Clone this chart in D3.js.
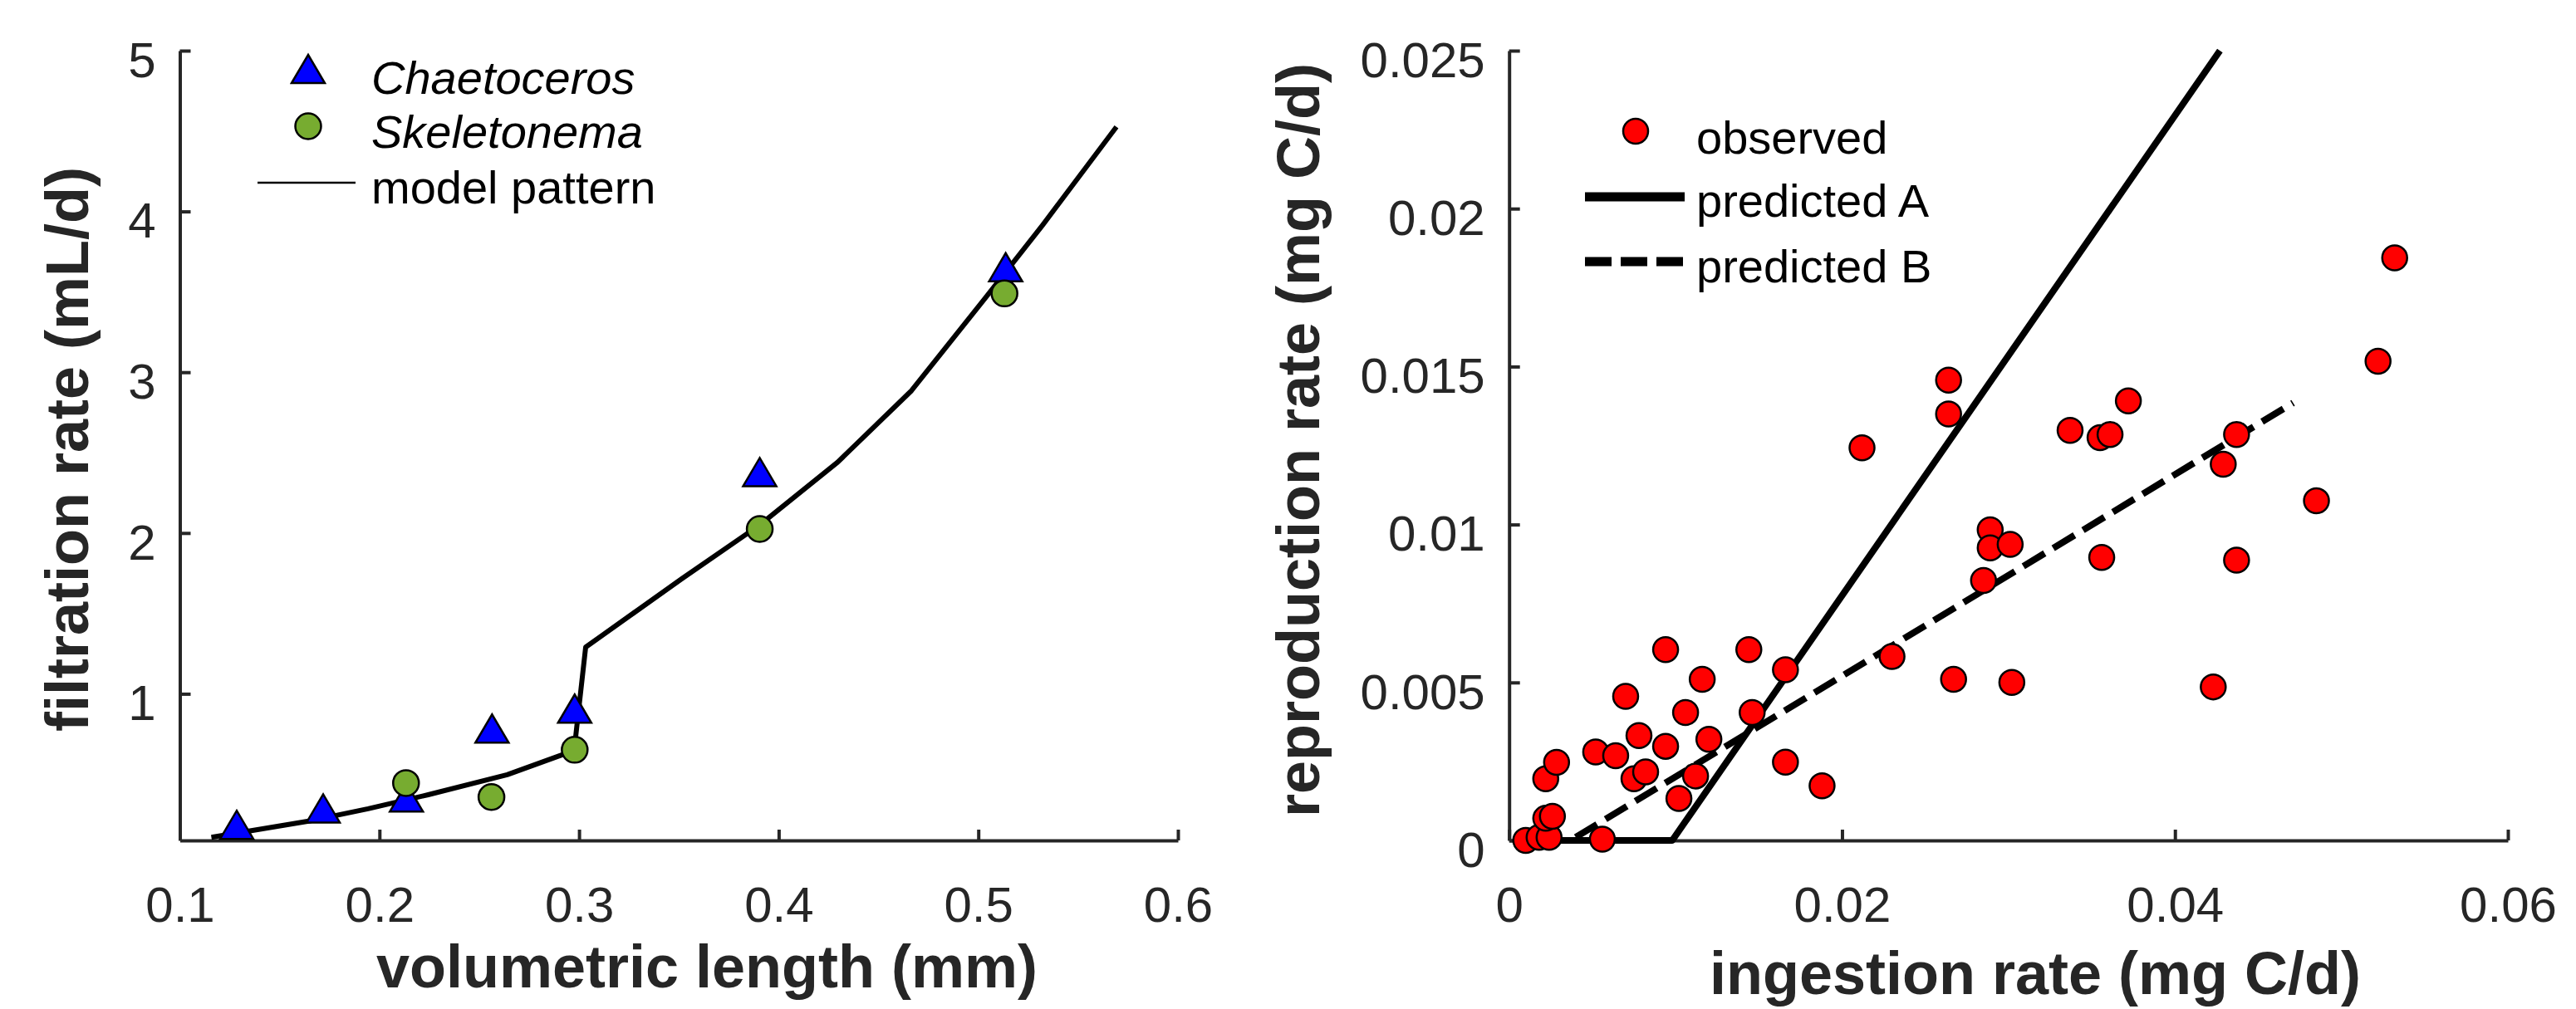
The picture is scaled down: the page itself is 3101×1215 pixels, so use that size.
<!DOCTYPE html>
<html>
<head>
<meta charset="utf-8">
<script src="https://cdn.jsdelivr.net/npm/d3@7"></script>
<style>
  html, body { margin: 0; padding: 0; background: #fff; }
  svg { display: block; }
  text { font-family: "Liberation Sans", Arial, sans-serif; }
</style>
</head>
<body>
<svg id="chart" width="3101" height="1215"></svg>
<script>
// left panel: filtration rate vs volumetric length
const chaetoLength = [0.1285, 0.1718, 0.2135, 0.2564, 0.2978, 0.3905, 0.5137]
const chaetoFiltration = [0.185, 0.287, 0.355, 0.784, 0.908, 2.379, 3.653]
const skeletoLength = [0.2133, 0.2561, 0.2978, 0.3905, 0.5131]
const skeletoFiltration = [0.445, 0.358, 0.652, 2.025, 3.49]
const modelLength = [0.1158, 0.1658, 0.1943, 0.2244, 0.2640, 0.2910, 0.2975, 0.3033, 0.3514, 0.3905, 0.4295, 0.4665, 0.5034, 0.5322, 0.5692]
const modelFiltration = [0.107, 0.211, 0.285, 0.372, 0.497, 0.618, 0.645, 1.29, 1.715, 2.05, 2.44, 2.885, 3.46, 3.915, 4.526]
const leftXTicks = [0.1, 0.2, 0.3, 0.4, 0.5, 0.6]
const leftXLabels = ["0.1", "0.2", "0.3", "0.4", "0.5", "0.6"]
const leftYTicks = [1, 2, 3, 4, 5]
const leftYLabels = ["1", "2", "3", "4", "5"]

// right panel: reproduction rate vs ingestion rate
const obsIngestion = [0.0010, 0.0018, 0.0024, 0.0022, 0.0026, 0.0022, 0.00285, 0.0056, 0.0052, 0.0064,
  0.0070, 0.0078, 0.0075, 0.0082, 0.0094, 0.0094, 0.0106, 0.0116, 0.0102, 0.0112,
  0.0120, 0.0144, 0.0146, 0.0166, 0.0166, 0.0188, 0.0212, 0.0230, 0.0264, 0.0264,
  0.0267, 0.0289, 0.0289, 0.0301, 0.0285, 0.0302, 0.0337, 0.0355, 0.0361, 0.0372,
  0.0356, 0.0437, 0.0429, 0.0437, 0.0423, 0.0485, 0.0522, 0.0532]
const obsReproduction = [0, 0.0001, 0.0001, 0.0007, 0.00076, 0.00195, 0.00247, 0.00004, 0.0028, 0.00268,
  0.00456, 0.00332, 0.00195, 0.00217, 0.00604, 0.00298, 0.00405, 0.0051, 0.00133, 0.00204,
  0.0032, 0.00604, 0.00405, 0.0054, 0.00248, 0.00173, 0.01243, 0.00582, 0.01457, 0.0135,
  0.0051, 0.00983, 0.00926, 0.00937, 0.00823, 0.005, 0.01298, 0.01275, 0.01285, 0.01391,
  0.00896, 0.01285, 0.01191, 0.00887, 0.00486, 0.01075, 0.01517, 0.01844]
const predAIngestion = [0.0005, 0.0098, 0.0427]
const predAReproduction = [0, 0, 0.025]
const predBIngestion = [0.0040, 0.0471]
const predBReproduction = [0.0001, 0.01385]
const rightXTicks = [0, 0.02, 0.04, 0.06]
const rightXLabels = ["0", "0.02", "0.04", "0.06"]
const rightYTicks = [0, 0.005, 0.01, 0.015, 0.02, 0.025]
const rightYLabels = ["0", "0.005", "0.01", "0.015", "0.02", "0.025"]

const axisColor = "#262626"
const blue = "#0000ff", green = "#77ac30", red = "#ff0000"

let svg = d3.select("#chart")
svg.append("rect").attr("width", 3101).attr("height", 1215).attr("fill", "#fff")

let xL = d3.scaleLinear().domain([0.1, 0.6]).range([216.5, 1418])
let yL = d3.scaleLinear().domain([0.088, 5]).range([1012, 61])
let xR = d3.scaleLinear().domain([0, 0.06]).range([1816.7, 3019])
let yR = d3.scaleLinear().domain([0, 0.025]).range([1012, 61])

function drawAxes(x, y, xt, xl, yt, yl){
    let gx = svg.append("g")
        .attr("transform", `translate(0,${y.range()[0]})`)
        .call(d3.axisBottom(x).tickValues(xt).tickFormat((d,i) => xl[i])
            .tickSizeInner(-13).tickSizeOuter(0).tickPadding(55))
    let gy = svg.append("g")
        .attr("transform", `translate(${x.range()[0]},0)`)
        .call(d3.axisLeft(y).tickValues(yt).tickFormat((d,i) => yl[i])
            .tickSizeInner(-13).tickSizeOuter(0).tickPadding(29))
    for (let g of [gx, gy]) {
        g.attr("font-size", 60).attr("font-family", null)
        g.selectAll("path, line").attr("stroke", axisColor).attr("stroke-width", 4)
        g.selectAll("text").attr("fill", axisColor)
    }
    gy.selectAll("text").attr("dy", "0.52em")
}

function triangle(cx, cy){
    let w = 40, h = 34
    return `M${cx - w/2},${cy + h/2}L${cx},${cy - h/2}L${cx + w/2},${cy + h/2}Z`
}

// ---- left panel
drawAxes(xL, yL, leftXTicks, leftXLabels, leftYTicks, leftYLabels)

let modelLine = d3.line().x(d => xL(d[0])).y(d => yL(d[1]))
svg.append("path")
    .datum(d3.zip(modelLength, modelFiltration))
    .attr("d", modelLine)
    .attr("fill", "none").attr("stroke", "#000").attr("stroke-width", 6)
    .attr("stroke-linejoin", "round")

svg.selectAll(".chaeto")
    .data(d3.zip(chaetoLength, chaetoFiltration))
    .enter().append("path")
        .attr("class", "chaeto")
        .attr("d", d => triangle(xL(d[0]), yL(d[1])))
        .attr("fill", blue).attr("stroke", "#000").attr("stroke-width", 2.5)

svg.selectAll(".skeleto")
    .data(d3.zip(skeletoLength, skeletoFiltration))
    .enter().append("circle")
        .attr("class", "skeleto")
        .attr("cx", d => xL(d[0])).attr("cy", d => yL(d[1]))
        .attr("r", 15.5)
        .attr("fill", green).attr("stroke", "#000").attr("stroke-width", 2.5)

// left legend
svg.append("path").attr("d", triangle(371, 83))
    .attr("fill", blue).attr("stroke", "#000").attr("stroke-width", 2.5)
svg.append("circle").attr("cx", 371).attr("cy", 152).attr("r", 15.5)
    .attr("fill", green).attr("stroke", "#000").attr("stroke-width", 2.5)
svg.append("line").attr("x1", 310).attr("x2", 428).attr("y1", 220).attr("y2", 220)
    .attr("stroke", "#000").attr("stroke-width", 2.5)
let legL = [["Chaetoceros", 113, "italic"], ["Skeletonema", 178, "italic"], ["model pattern", 245, "normal"]]
svg.selectAll(".legL").data(legL).enter().append("text")
    .attr("class", "legL")
    .attr("x", 447).attr("y", d => d[1])
    .attr("font-size", 56).attr("font-style", d => d[2])
    .text(d => d[0])

svg.append("text").attr("x", 851).attr("y", 1189)
    .attr("text-anchor", "middle").attr("font-size", 72).attr("font-weight", "bold")
    .attr("fill", axisColor).text("volumetric length (mm)")
svg.append("text").attr("transform", "translate(106,541) rotate(-90)")
    .attr("text-anchor", "middle").attr("font-size", 72).attr("font-weight", "bold")
    .attr("fill", axisColor).text("filtration rate (mL/d)")

// ---- right panel
drawAxes(xR, yR, rightXTicks, rightXLabels, rightYTicks, rightYLabels)

let predLine = d3.line().x(d => xR(d[0])).y(d => yR(d[1]))
svg.append("path")
    .datum(d3.zip(predAIngestion, predAReproduction))
    .attr("d", predLine)
    .attr("fill", "none").attr("stroke", "#000").attr("stroke-width", 8)
    .attr("stroke-linejoin", "round")
svg.append("path")
    .datum(d3.zip(predBIngestion, predBReproduction))
    .attr("d", predLine)
    .attr("fill", "none").attr("stroke", "#000").attr("stroke-width", 8)
    .attr("stroke-dasharray", "30,12")

svg.selectAll(".obs")
    .data(d3.zip(obsIngestion, obsReproduction))
    .enter().append("circle")
        .attr("class", "obs")
        .attr("cx", d => xR(d[0])).attr("cy", d => yR(d[1]))
        .attr("r", 15)
        .attr("fill", red).attr("stroke", "#000").attr("stroke-width", 2.5)

// right legend
svg.append("circle").attr("cx", 1969).attr("cy", 158).attr("r", 15)
    .attr("fill", red).attr("stroke", "#000").attr("stroke-width", 2.5)
svg.append("line").attr("x1", 1908).attr("x2", 2028).attr("y1", 237).attr("y2", 237)
    .attr("stroke", "#000").attr("stroke-width", 11)
svg.append("line").attr("x1", 1908).attr("x2", 2026).attr("y1", 315).attr("y2", 315)
    .attr("stroke", "#000").attr("stroke-width", 11).attr("stroke-dasharray", "32,11")
let legR = [["observed", 185], ["predicted A", 261], ["predicted B", 340]]
svg.selectAll(".legR").data(legR).enter().append("text")
    .attr("class", "legR")
    .attr("x", 2042).attr("y", d => d[1])
    .attr("font-size", 56)
    .text(d => d[0])

// kept just inside the bottom edge so the descenders are not clipped
svg.append("text").attr("x", 2450).attr("y", 1197)
    .attr("text-anchor", "middle").attr("font-size", 72).attr("font-weight", "bold")
    .attr("fill", axisColor).text("ingestion rate (mg C/d)")
svg.append("text").attr("transform", "translate(1588,530) rotate(-90)")
    .attr("text-anchor", "middle").attr("font-size", 72).attr("font-weight", "bold")
    .attr("fill", axisColor).text("reproduction rate (mg C/d)")
</script>
</body>
</html>
